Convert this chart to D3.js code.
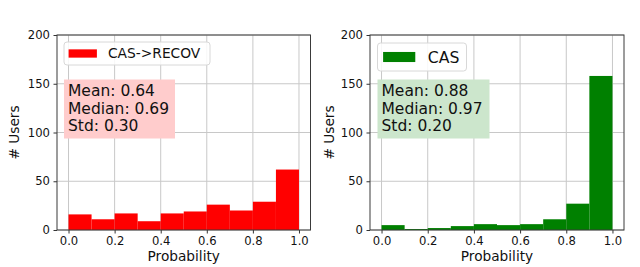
<!DOCTYPE html>
<html>
<head>
<meta charset="utf-8">
<script src="https://cdn.jsdelivr.net/npm/d3@7"></script>
<style>
  body { margin: 0; background: #fff; }
  svg { display: block; font-family: "DejaVu Sans", sans-serif; }
</style>
</head>
<body>
<svg width="640" height="267"></svg>
<script>
(function (d3) {
  "use strict";

  // histogram data (10 bins of width 0.1)
  const binStarts = [0.0, 0.1, 0.2, 0.3, 0.4, 0.5, 0.6, 0.7, 0.8, 0.9];
  const binWidth = 0.1;
  const casRecovCounts = [16, 11, 17, 9, 17, 19, 26, 20, 29, 62];
  const casCounts = [5, 1, 2, 4, 6, 5, 6, 11, 27, 158];

  const xTicks = [0.0, 0.2, 0.4, 0.6, 0.8, 1.0];
  const yTicks = [0, 50, 100, 150, 200];

  const casRecovStats = ["Mean: 0.64", "Median: 0.69", "Std: 0.30"];
  const casStats = ["Mean: 0.88", "Median: 0.97", "Std: 0.20"];

  const svg = d3.select("svg");

  const panels = [
    {
      name: "CAS->RECOV", counts: casRecovCounts, stats: casRecovStats,
      color: "#ff0000", boxFill: "#ffcccc",
      x0: 57, x1: 310.5, yLabelX: 18.5,
      legend: { x: 64, y: 42, w: 146, h: 23, font: 13.8 },
      box: { x: 64, y: 79.5, w: 111, h: 59, tx: 68, font: 15.5 }
    },
    {
      name: "CAS", counts: casCounts, stats: casStats,
      color: "#008000", boxFill: "#cce6cc",
      x0: 370, x1: 624, yLabelX: 333.5,
      legend: { x: 377.5, y: 43, w: 89, h: 28, font: 15.7 },
      box: { x: 377.5, y: 79.5, w: 112, h: 59, tx: 381.5, font: 15.5 }
    }
  ];

  const yTop = 35;
  const yBottom = 230;

  panels.forEach((p) => {
    const xScale = d3.scaleLinear().domain([-0.05, 1.05]).range([p.x0, p.x1]);
    const yScale = d3.scaleLinear().domain([0, 200]).range([yBottom, yTop]);

    const g = svg.append("g");

    // grid
    g.append("g")
      .selectAll("line.vg")
      .data(xTicks)
      .enter()
      .append("line")
      .attr("x1", (d) => xScale(d))
      .attr("x2", (d) => xScale(d))
      .attr("y1", yTop)
      .attr("y2", yBottom)
      .attr("stroke", "#c8c8c8")
      .attr("stroke-width", 1);

    g.append("g")
      .selectAll("line.hg")
      .data(yTicks)
      .enter()
      .append("line")
      .attr("x1", p.x0)
      .attr("x2", p.x1)
      .attr("y1", (d) => yScale(d))
      .attr("y2", (d) => yScale(d))
      .attr("stroke", "#c8c8c8")
      .attr("stroke-width", 1);

    // bars
    g.selectAll("rect.bar")
      .data(p.counts)
      .enter()
      .append("rect")
      .attr("x", (d, i) => xScale(binStarts[i]))
      .attr("width", (d, i) => xScale(binStarts[i] + binWidth) - xScale(binStarts[i]))
      .attr("y", (d) => yScale(d))
      .attr("height", (d) => yScale(0) - yScale(d))
      .attr("fill", p.color);

    // axes
    const xAxis = d3.axisBottom(xScale)
      .tickValues(xTicks)
      .tickFormat(d3.format(".1f"))
      .tickSize(3.5)
      .tickPadding(3.5);
    const yAxis = d3.axisLeft(yScale)
      .tickValues(yTicks)
      .tickSize(3.5)
      .tickPadding(3.5);

    const xAxisG = g.append("g")
      .attr("transform", `translate(0,${yBottom})`)
      .call(xAxis);
    const yAxisG = g.append("g")
      .attr("transform", `translate(${p.x0},0)`)
      .call(yAxis);

    [xAxisG, yAxisG].forEach((a) => {
      a.select(".domain").remove();
      a.selectAll("line").attr("stroke", "#333");
      a.selectAll("text")
        .attr("fill", "#111")
        .style("font-size", "11.6px")
        .style("font-family", "DejaVu Sans");
    });

    // frame (all four spines)
    g.append("rect")
      .attr("x", p.x0)
      .attr("y", yTop)
      .attr("width", p.x1 - p.x0)
      .attr("height", yBottom - yTop)
      .attr("fill", "none")
      .attr("stroke", "#3a3a3a")
      .attr("stroke-width", 1);

    // axis labels
    g.append("text")
      .attr("x", (p.x0 + p.x1) / 2)
      .attr("y", 261)
      .attr("text-anchor", "middle")
      .style("font-size", "13.7px")
      .attr("fill", "#111")
      .text("Probability");

    g.append("text")
      .attr("transform", `translate(${p.yLabelX},${(yTop + yBottom) / 2}) rotate(-90)`)
      .attr("text-anchor", "middle")
      .style("font-size", "13.7px")
      .attr("fill", "#111")
      .text("# Users");

    // legend
    const lg = p.legend;
    g.append("rect")
      .attr("x", lg.x)
      .attr("y", lg.y)
      .attr("width", lg.w)
      .attr("height", lg.h)
      .attr("rx", 3)
      .attr("fill", "#fff")
      .attr("fill-opacity", 0.85)
      .attr("stroke", "#d8d8d8");
    const patchH = lg.h * 0.36;
    g.append("rect")
      .attr("x", lg.x + lg.h * 0.2)
      .attr("y", lg.y + (lg.h - patchH) / 2)
      .attr("width", lg.font * 2.05)
      .attr("height", patchH)
      .attr("fill", p.color);
    g.append("text")
      .attr("x", lg.x + lg.h * 0.2 + lg.font * 2.05 + lg.font * 0.8)
      .attr("y", lg.y + lg.h / 2 + lg.font * 0.36)
      .style("font-size", lg.font + "px")
      .attr("fill", "#111")
      .text(p.name);

    // stats box
    const b = p.box;
    g.append("rect")
      .attr("x", b.x)
      .attr("y", b.y)
      .attr("width", b.w)
      .attr("height", b.h)
      .attr("fill", p.boxFill);
    g.selectAll("text.stat")
      .data(p.stats)
      .enter()
      .append("text")
      .attr("class", "stat")
      .attr("x", b.tx)
      .attr("y", (d, i) => 96.3 + i * 17.4)
      .style("font-size", b.font + "px")
      .attr("fill", "#111")
      .text((d) => d);
  });
})(d3);
</script>
</body>
</html>
